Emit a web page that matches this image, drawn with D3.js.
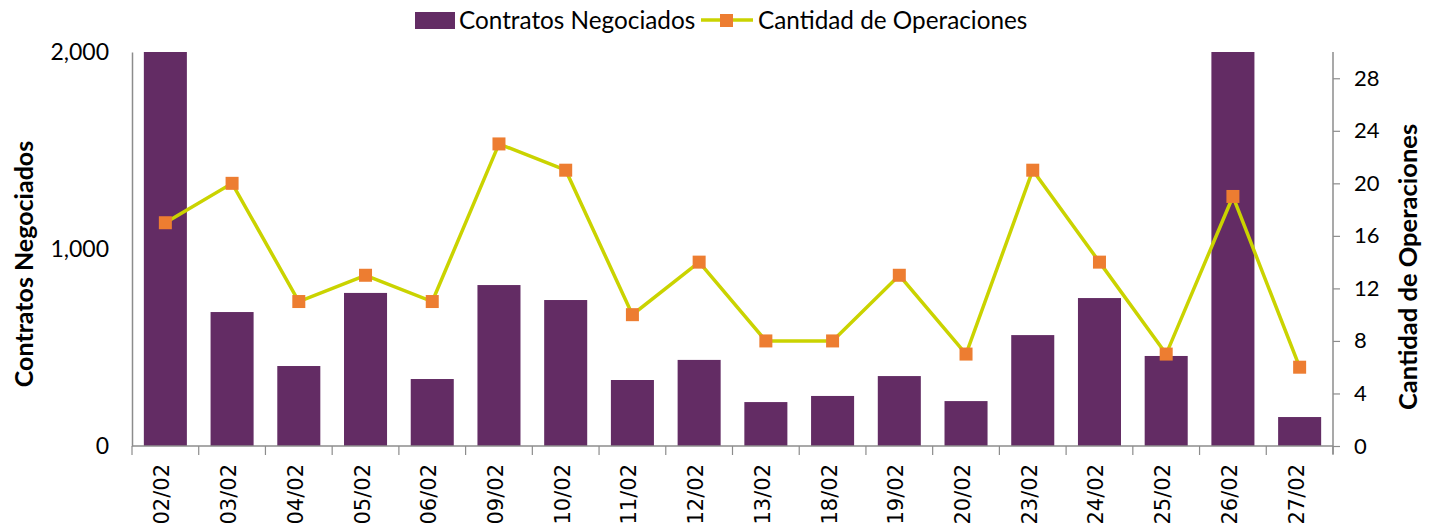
<!DOCTYPE html>
<html><head><meta charset="utf-8">
<script src="https://cdn.jsdelivr.net/npm/d3@7"></script>
<style>body{margin:0;background:#fff;} svg{display:block;}</style>
</head><body><svg id="c" width="1434" height="527"></svg>
<script>
const categories = ["02/02","03/02","04/02","05/02","06/02","09/02","10/02","11/02","12/02","13/02","18/02","19/02","20/02","23/02","24/02","25/02","26/02","27/02"];
const contratos = [2000,680,406,777,340,817,741,335,437,223,254,355,228,563,751,457,2000,147];
const operaciones = [17,20,11,13,11,23,21,10,14,8,8,13,7,21,14,7,19,6];
const leftTicks = [0,1000,2000];
const rightTicks = [0,4,8,12,16,20,24,28];

const svg = d3.select("#c");
const L = 132, R = 1333, T = 52, B = 446;
const x = d3.scaleBand().domain(categories).range([L, R]).paddingInner(0.355).paddingOuter(0.1775);
const xb = d3.scaleBand().domain(categories).range([L, R]);
const yL = d3.scaleLinear().domain([0, 2000]).range([B, T]).clamp(true);
const yR = d3.scaleLinear().domain([0, 30]).range([B, T]);

const barColor = "#632c64";

// bars
svg.append("g").selectAll("rect").data(categories).join("rect")
  .attr("x", d => x(d)).attr("width", x.bandwidth())
  .attr("y", (d,i) => yL(contratos[i])).attr("height", (d,i) => B - yL(contratos[i]))
  .attr("fill", barColor);

// left axis
const gl = svg.append("g").attr("transform", `translate(${L},0)`)
  .call(d3.axisLeft(yL).tickValues(leftTicks).tickFormat(d3.format(",")).tickSize(0).tickPadding(23));
gl.select(".domain").attr("stroke", "#8c8c8c").attr("stroke-width", 1.5);
gl.selectAll("text").attr("font-family", "Lato, sans-serif").attr("font-size", 23).attr("fill", "#000");

// right axis
const gr = svg.append("g").attr("transform", `translate(${R},0)`)
  .call(d3.axisRight(yR).tickValues(rightTicks).tickSize(7).tickPadding(14).tickSizeOuter(0));
gr.select(".domain").attr("stroke", "#8c8c8c").attr("stroke-width", 1.5).attr("d", `M0,${T}V${B+8}`);
gr.selectAll(".tick line").attr("stroke", "#8c8c8c").attr("stroke-width", 1.2);
gr.selectAll("text").attr("font-family", "Lato, sans-serif").attr("font-size", 22).attr("fill", "#000");

// x axis
const gx = svg.append("g").attr("transform", `translate(0,${B})`);
gx.append("line").attr("x1", L).attr("x2", R).attr("stroke", "#8c8c8c").attr("stroke-width", 1.5);
const bounds = categories.map(c => xb(c)).concat([R]);
gx.selectAll("line.tk").data(bounds).join("line").attr("class","tk")
  .attr("x1", d => d).attr("x2", d => d).attr("y1", 0).attr("y2", 9)
  .attr("stroke", "#8c8c8c").attr("stroke-width", 1.2);
gx.selectAll("text").data(categories).join("text")
  .attr("transform", d => `translate(${x(d) + x.bandwidth()/2 + 4},${18}) rotate(-90)`)
  .attr("text-anchor", "end")
  .attr("font-family", "'DejaVu Sans', sans-serif").attr("font-size", 21).attr("fill", "#000")
  .text(d => d);

// line
const line = d3.line().x((d,i) => x(categories[i]) + x.bandwidth()/2).y(d => yR(d));
svg.append("path").datum(operaciones).attr("d", line)
  .attr("fill", "none").attr("stroke", "#cad300").attr("stroke-width", 3.5);
svg.append("g").selectAll("rect").data(operaciones).join("rect")
  .attr("x", (d,i) => x(categories[i]) + x.bandwidth()/2 - 6.5)
  .attr("y", d => yR(d) - 6.5).attr("width", 13).attr("height", 13)
  .attr("fill", "#ed7d31");

// axis titles
svg.append("text").attr("transform", `translate(33,264) rotate(-90)`)
  .attr("text-anchor", "middle").attr("font-family", "Lato, sans-serif").attr("font-weight", "bold")
  .attr("font-size", 25).text("Contratos Negociados");
svg.append("text").attr("transform", `translate(1417,267) rotate(-90)`)
  .attr("text-anchor", "middle").attr("font-family", "Lato, sans-serif").attr("font-weight", "bold")
  .attr("font-size", 25.5).text("Cantidad de Operaciones");

// legend
const lg = svg.append("g");
lg.append("rect").attr("x", 415).attr("y", 12).attr("width", 40).attr("height", 17).attr("fill", barColor);
lg.append("text").attr("x", 459).attr("y", 29).attr("font-family", "Lato, sans-serif").attr("font-size", 24.3).text("Contratos Negociados");
lg.append("line").attr("x1", 701).attr("x2", 753).attr("y1", 20).attr("y2", 20).attr("stroke", "#cad300").attr("stroke-width", 3.5);
lg.append("rect").attr("x", 720).attr("y", 14).attr("width", 13).attr("height", 13).attr("fill", "#ed7d31");
lg.append("text").attr("x", 758).attr("y", 29).attr("font-family", "Lato, sans-serif").attr("font-size", 24.3).text("Cantidad de Operaciones");
</script></body></html>
